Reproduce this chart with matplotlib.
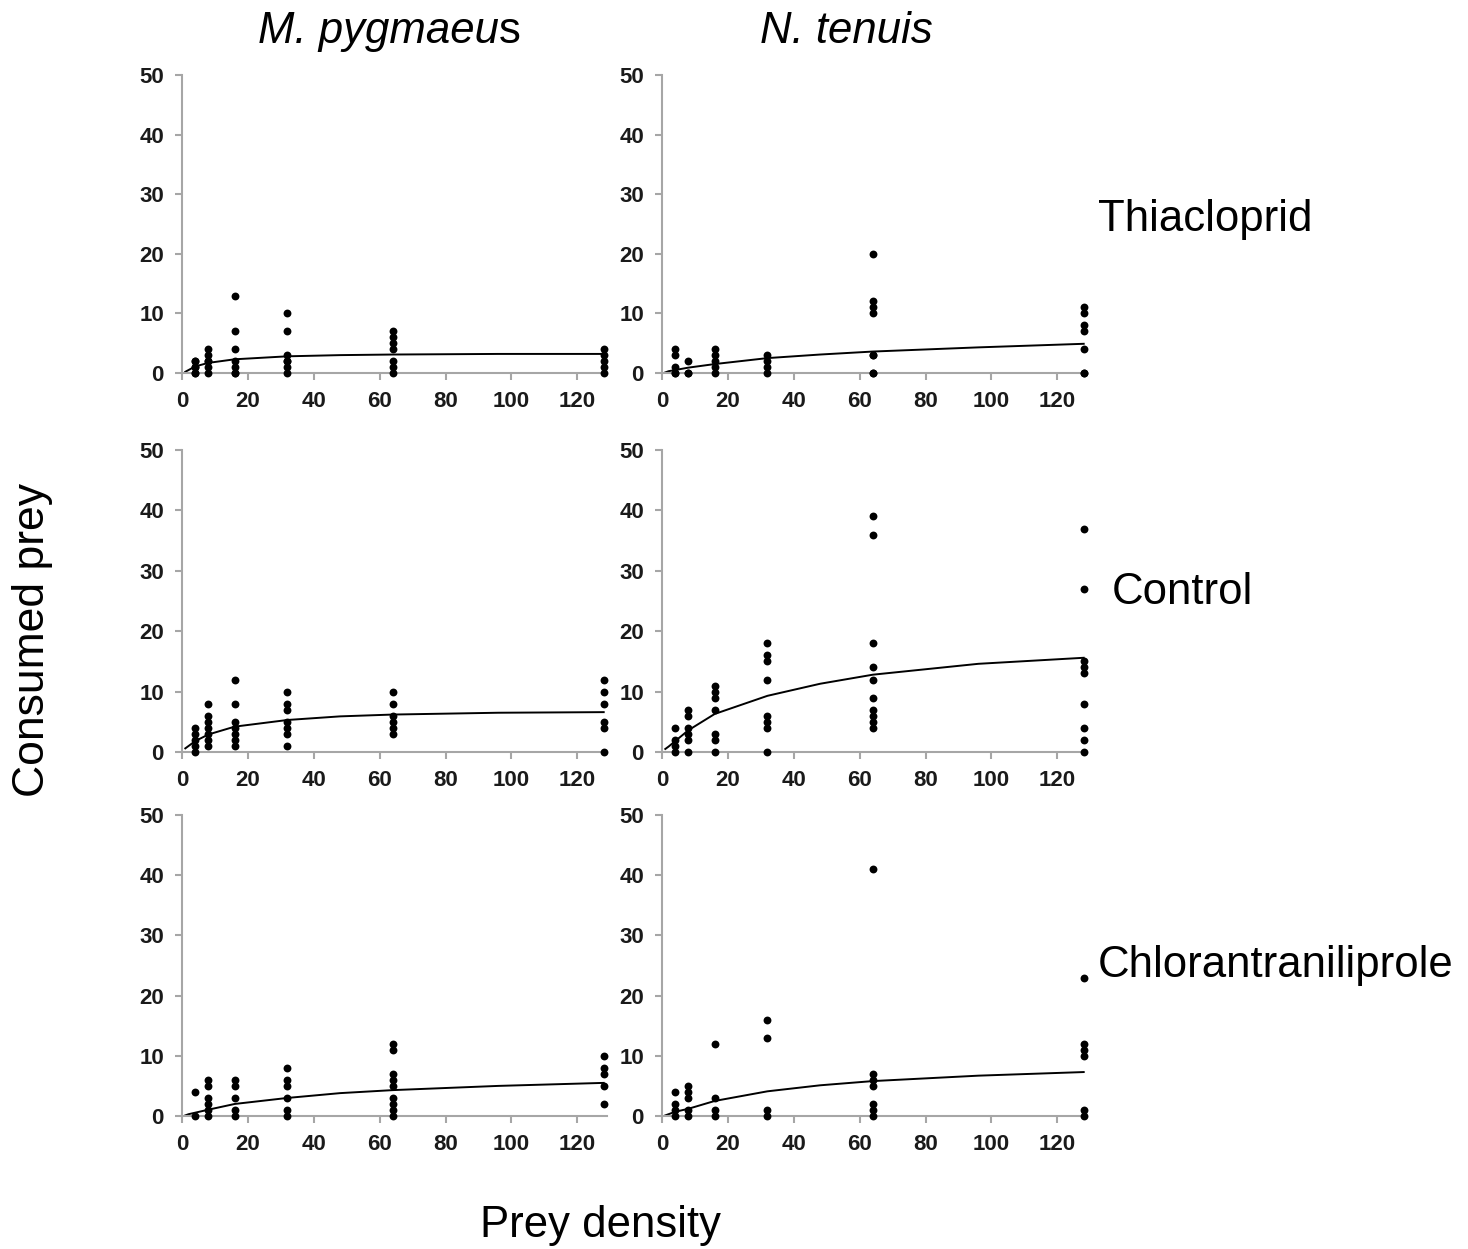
import numpy as np
import matplotlib
matplotlib.use('Agg')
import matplotlib.pyplot as plt

plt.rcParams['font.family'] = ['Liberation Sans', 'DejaVu Sans']

# prey densities offered
densities = [4, 8, 16, 32, 64, 128]

# consumed prey per replicate, one list per density
mp_thiacloprid = [[0, 0, 1, 1, 2, 2], [0, 1, 2, 2, 3, 4], [0, 0, 1, 2, 4, 7, 13],
                  [0, 1, 2, 2, 3, 7, 10], [0, 1, 2, 4, 5, 6, 7], [0, 1, 2, 3, 4]]
nt_thiacloprid = [[0, 0, 1, 3, 4], [0, 0, 2], [0, 1, 2, 3, 4],
                  [0, 1, 2, 3], [0, 0, 3, 3, 10, 11, 12, 20], [0, 0, 4, 7, 8, 10, 11]]
mp_control = [[0, 1, 2, 3, 4], [1, 2, 3, 4, 5, 6, 8], [1, 2, 3, 4, 5, 8, 12],
              [1, 3, 4, 5, 7, 8, 10], [3, 4, 5, 6, 8, 10], [0, 4, 5, 8, 10, 12]]
nt_control = [[0, 1, 2, 4], [0, 2, 3, 4, 6, 7], [0, 2, 3, 7, 9, 10, 11],
              [0, 4, 5, 6, 12, 15, 16, 18], [4, 5, 6, 7, 9, 12, 14, 18, 36, 39],
              [0, 2, 4, 8, 13, 14, 15, 27, 37]]
mp_chlor = [[0, 4], [0, 1, 2, 3, 5, 6], [0, 1, 3, 5, 6],
            [0, 1, 3, 5, 6, 8], [0, 1, 2, 3, 5, 6, 7, 11, 12], [2, 5, 7, 8, 10]]
nt_chlor = [[0, 1, 2, 4], [0, 1, 3, 4, 5], [0, 1, 3, 12],
            [0, 1, 13, 16], [0, 1, 2, 5, 6, 7, 41], [0, 1, 10, 11, 12, 23]]

# fitted functional response curves
curve_x = [1, 2, 4, 8, 16, 32, 48, 64, 96, 128]
fit_mp_thiacloprid = [0.2, 0.5, 1.1, 1.7, 2.3, 2.8, 3.0, 3.1, 3.2, 3.2]
fit_nt_thiacloprid = [0.1, 0.3, 0.5, 0.9, 1.5, 2.5, 3.1, 3.6, 4.3, 4.9]
fit_mp_control = [0.6, 1.0, 1.8, 2.9, 4.2, 5.3, 5.9, 6.2, 6.5, 6.6]
fit_nt_control = [0.5, 0.9, 1.8, 3.6, 6.3, 9.3, 11.3, 12.8, 14.6, 15.6]
fit_mp_chlor = [0.1, 0.3, 0.55, 1.05, 2.0, 3.0, 3.8, 4.3, 5.0, 5.5]
fit_nt_chlor = [0.1, 0.3, 0.7, 1.2, 2.5, 4.1, 5.1, 5.8, 6.7, 7.3]

treatments = ['Thiacloprid', 'Control', 'Chlorantraniliprole']

panels = [
    [(mp_thiacloprid, fit_mp_thiacloprid), (nt_thiacloprid, fit_nt_thiacloprid)],
    [(mp_control, fit_mp_control), (nt_control, fit_nt_control)],
    [(mp_chlor, fit_mp_chlor), (nt_chlor, fit_nt_chlor)],
]

W, H = 1468, 1249
fig = plt.figure(figsize=(W / 100, H / 100), dpi=100)

col_left = [182, 662]
col_width = 425
row_spans = [(75, 373), (450, 752), (815, 1116)]
spine_col = '#a6a6a6'

for r, (top, bottom) in enumerate(row_spans):
    for c in range(2):
        ax = fig.add_axes([col_left[c] / W, 1 - bottom / H, col_width / W, (bottom - top) / H])
        obs, fit = panels[r][c]
        for d, vals in zip(densities, obs):
            ax.scatter([d] * len(vals), vals, s=32, color='black', zorder=3,
                       clip_on=False, linewidths=0)
        ax.plot(curve_x, fit, color='black', lw=1.4, zorder=2)
        ax.set_xlim(0, 129)
        ax.set_ylim(0, 50)
        ax.set_xticks(np.arange(0, 121, 20))
        ax.set_yticks(np.arange(0, 51, 10))
        for s in ['top', 'right']:
            ax.spines[s].set_visible(False)
        for s in ['left', 'bottom']:
            ax.spines[s].set_color(spine_col)
            ax.spines[s].set_linewidth(1.5)
        ax.tick_params(direction='out', length=5, width=1.5, color=spine_col,
                       labelsize=16, pad=8, labelcolor='#1a1a1a')
        for lab in ax.get_xticklabels() + ax.get_yticklabels():
            lab.set_fontweight('bold')

# column titles (the original has an upright final "s" on the first one)
title_y = 1 - 43 / H
t1 = fig.text(258 / W, title_y, 'M. pygmaeu', style='italic', fontsize=31.5,
              ha='left', va='baseline')
fig.canvas.draw()
bb = t1.get_window_extent()
fig.text(bb.x1 / fig.bbox.width, title_y, 's', fontsize=31.5, ha='left', va='baseline')
fig.text(846 / W, title_y, 'N. tenuis', style='italic', fontsize=31.5,
         ha='center', va='baseline')

# treatment labels
fig.text(1098 / W, 1 - 220 / H, treatments[0], fontsize=31.5, ha='left', va='center')
fig.text(1112 / W, 1 - 593 / H, treatments[1], fontsize=31.5, ha='left', va='center')
fig.text(1098 / W, 1 - 966 / H, treatments[2], fontsize=31.5, ha='left', va='center')

# shared axis labels
fig.text(33 / W, 1 - 640 / H, 'Consumed prey', fontsize=32, rotation=90,
         ha='center', va='center')
fig.text(601 / W, 1 - 1225 / H, 'Prey density', fontsize=31.5, ha='center', va='center')

fig.savefig('out.png', dpi=100, facecolor='white')
